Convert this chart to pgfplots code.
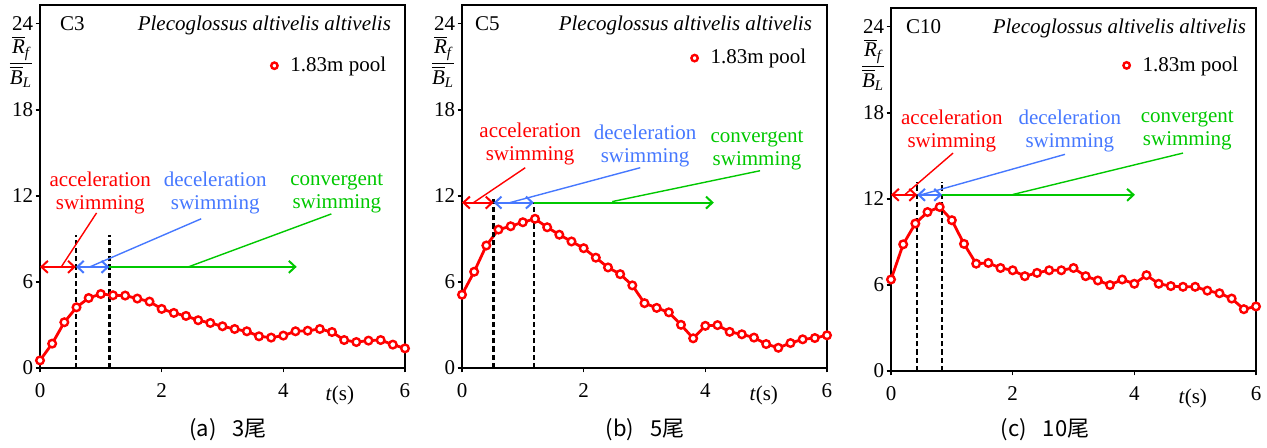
\documentclass[border=0pt]{standalone}
\usepackage{amsmath}
\usepackage{fontspec}
\setmainfont{Liberation Serif}
\newfontfamily\cjk{Noto Sans CJK SC}
\usepackage{pgfplots}
\usepackage{pgfplotstable}
\pgfplotsset{compat=1.18}
\usetikzlibrary{arrows.meta}

\definecolor{cred}{RGB}{255,0,0}
\definecolor{cblue}{RGB}{70,120,255}
\definecolor{cgreen}{RGB}{0,200,0}
\newcommand{\fs}{\fontsize{10.5}{11.5}\selectfont}
\newcommand{\ylab}{$\dfrac{\overline{\textit{R}}_{\textit{f}}}{\overline{\textit{B}}_{\textit{L}}}$}

% t (s) vs R_f/B_L, one table per fish group
\pgfplotstableread{
t r
0.0 0.53
0.2 1.70
0.4 3.19
0.6 4.23
0.8 4.88
1.0 5.16
1.2 5.07
1.4 5.05
1.6 4.84
1.8 4.63
2.0 4.12
2.2 3.84
2.4 3.63
2.6 3.33
2.8 3.14
3.0 2.91
3.2 2.72
3.4 2.56
3.6 2.21
3.8 2.12
4.0 2.26
4.2 2.56
4.4 2.60
4.6 2.72
4.8 2.51
5.0 1.95
5.2 1.81
5.4 1.91
5.6 1.95
5.8 1.63
6.0 1.37
}\dataA

\pgfplotstableread{
t r
0.0 5.11
0.2 6.71
0.4 8.54
0.6 9.65
0.8 9.88
1.0 10.16
1.2 10.40
1.4 9.81
1.6 9.29
1.8 8.82
2.0 8.35
2.2 7.69
2.4 7.01
2.6 6.54
2.8 5.76
3.0 4.52
3.2 4.19
3.4 3.88
3.6 3.01
3.8 2.07
4.0 2.94
4.2 2.99
4.4 2.52
4.6 2.35
4.8 2.12
5.0 1.67
5.2 1.41
5.4 1.74
5.6 2.00
5.8 2.09
6.0 2.28
}\dataB

\pgfplotstableread{
t r
0.0 6.38
0.2 8.83
0.4 10.28
0.6 11.08
0.8 11.43
1.0 10.51
1.2 8.86
1.4 7.48
1.6 7.53
1.8 7.18
2.0 7.02
2.2 6.61
2.4 6.84
2.6 7.02
2.8 7.02
3.0 7.18
3.2 6.61
3.4 6.31
3.6 5.99
3.8 6.38
4.0 6.08
4.2 6.68
4.4 6.08
4.6 5.92
4.8 5.87
5.0 5.87
5.2 5.60
5.4 5.42
5.6 5.05
5.8 4.31
6.0 4.50
}\dataC

\tikzset{
  >={Straight Barb[length=3.2pt,width=6pt]},
  lead/.style={line width=0.7pt},
  arr/.style={line width=1pt},
  vline/.style={black, line width=1.2pt, dash pattern=on 2.6pt off 1.5pt},
}

\pgfplotsset{
  panel/.style={
    scale only axis, width=182.5pt, height=181.5pt,
    anchor=south west,
    xmin=0, xmax=6, ymin=0, ymax=25.3,
    xtick={0,2,4,6}, ytick={0,6,12,18,24},
    tick align=outside, major tick length=2.2pt,
    xtick pos=bottom, ytick pos=left,
    axis line style={line width=1pt},
    every tick/.style={black, line width=0.8pt},
    /pgf/number format/assume math mode=true,
    ticklabel style={font=\fs},
    yticklabel style={inner sep=1pt},
    xticklabel style={yshift=-2pt},
    clip=false,
    legend style={draw=none, fill=none, font=\fs, anchor=west, inner sep=0pt},
    legend cell align=left,
    legend image code/.code={\draw[##1, only marks, mark size=1.6pt] plot coordinates {(0pt,0pt)}; \path[draw=none] (0pt,0pt) -- (6pt,0pt);},
  },
  fish/.style={cred, line width=1.4pt, mark=*, mark size=1.9pt,
    mark options={solid, fill=white, draw=cred, line width=1.2pt}},
}

\begin{document}
\begin{tikzpicture}

% ---------- (a) 3 fish ----------
\begin{axis}[panel, at={(20pt,-184pt)},
    legend style={at={(axis cs:3.86,21.07)}, xshift=-2pt}]
\addplot[fish] table[x=t, y=r] {\dataA};
\addlegendentry{1.83m pool}
\draw[vline] (0.59,0) -- (0.59,9.28);
\draw[vline] (1.14,0) -- (1.14,9.28);
\draw[cred, arr, <->] (0,7.05) -- (0.59,7.05);
\draw[cblue, arr, <->] (0.59,7.05) -- (1.14,7.05);
\draw[cgreen, arr, ->] (1.14,7.05) -- (4.22,7.05);
\draw[cred, lead] (0.35,7.05) -- (0.93,10.81);
\draw[cblue, lead] (0.82,7.05) -- (2.65,10.4);
\draw[cgreen, lead] (2.44,7.05) -- (4.79,10.74);
\node[font=\fs, text=cred, align=center] at (0.99,12.17) {acceleration\\swimming};
\node[font=\fs, text=cblue, align=center] at (2.88,12.17) {deceleration\\swimming};
\node[font=\fs, text=cgreen, align=center] at (4.88,12.17) {convergent\\swimming};
\node[font=\fs, anchor=base west, xshift=6.5pt] at (0,23.5) {C3};
\node[font=\fs\itshape, anchor=base east, xshift=-3.5pt] at (6,23.5) {Plecoglossus altivelis altivelis};
\node[font=\fs, xshift=-9.5pt] at (0,21.35) {\ylab};
\node[font=\fs, anchor=base] at (4.93,0) [yshift=-16pt] {\textit{t}(s)};
\end{axis}

% ---------- (b) 5 fish ----------
\begin{axis}[panel, at={(231pt,-184pt)},
    legend style={at={(axis cs:3.83,21.6)}, xshift=-2pt}]
\addplot[fish] table[x=t, y=r] {\dataB};
\addlegendentry{1.83m pool}
\draw[vline] (0.52,0) -- (0.52,12.0);
\draw[vline] (1.18,0) -- (1.18,11.6);
\draw[cred, arr, <->] (0,11.53) -- (0.52,11.53);
\draw[cblue, arr, <->] (0.52,11.53) -- (1.18,11.53);
\draw[cgreen, arr, ->] (1.18,11.53) -- (4.14,11.53);
\draw[cred, lead] (0.19,11.53) -- (1.04,13.96);
\draw[cblue, lead] (0.79,11.53) -- (2.93,13.96);
\draw[cgreen, lead] (2.47,11.6) -- (4.90,13.75);
\node[font=\fs, text=cred, align=center] at (1.12,15.6) {acceleration\\swimming};
\node[font=\fs, text=cblue, align=center] at (3.01,15.5) {deceleration\\swimming};
\node[font=\fs, text=cgreen, align=center] at (4.85,15.2) {convergent\\swimming};
\node[font=\fs, anchor=base west, xshift=3pt] at (0,23.5) {C5};
\node[font=\fs\itshape, anchor=base east, xshift=-4pt] at (6,23.5) {Plecoglossus altivelis altivelis};
\node[font=\fs, xshift=-9.5pt] at (0,21.35) {\ylab};
\node[font=\fs, anchor=base] at (4.96,0) [yshift=-16pt] {\textit{t}(s)};
\end{axis}

% ---------- (c) 10 fish ----------
\begin{axis}[panel, at={(445.5pt,-185.5pt)},
    legend style={at={(axis cs:3.88,21.3)}, xshift=-2pt}]
\addplot[fish] table[x=t, y=r] {\dataC};
\addlegendentry{1.83m pool}
\draw[vline] (0.43,0) -- (0.43,13.2);
\draw[vline] (0.84,0) -- (0.84,13.2);
\draw[cred, arr, <->] (0,12.28) -- (0.43,12.28);
\draw[cblue, arr, <->] (0.43,12.28) -- (0.84,12.28);
\draw[cgreen, arr, ->] (0.84,12.28) -- (4.01,12.28);
\draw[cred, lead] (0.23,12.3) -- (1.02,15.19);
\draw[cblue, lead] (0.51,12.3) -- (2.86,15.1);
\draw[cgreen, lead] (2.0,12.3) -- (4.80,15.19);
\node[font=\fs, text=cred, align=center] at (1.0,16.75) {acceleration\\swimming};
\node[font=\fs, text=cblue, align=center] at (2.94,16.75) {deceleration\\swimming};
\node[font=\fs, text=cgreen, align=center] at (4.87,16.75) {convergent\\swimming};
\node[font=\fs, anchor=base west, xshift=4pt] at (0,23.5) {C10};
\node[font=\fs\itshape, anchor=base east, xshift=-1.5pt] at (6,23.5) {Plecoglossus altivelis altivelis};
\node[font=\fs, xshift=-9pt] at (0,21.35) {\ylab};
\node[font=\fs, anchor=base] at (4.96,0) [yshift=-16pt] {\textit{t}(s)};
\end{axis}

% sub-captions
\node[font=\cjk\fontsize{11}{13}\selectfont] at (114pt,-215pt) {(a)\hspace{8pt}3尾};
\node[font=\cjk\fontsize{11}{13}\selectfont] at (322.5pt,-215pt) {(b)\hspace{8pt}5尾};
\node[font=\cjk\fontsize{11}{13}\selectfont] at (522.5pt,-215pt) {(c)\hspace{8pt}10尾};

\pgfresetboundingbox
\useasboundingbox (0pt,0pt) rectangle (633.5pt,-223.5pt);
\end{tikzpicture}
\end{document}
